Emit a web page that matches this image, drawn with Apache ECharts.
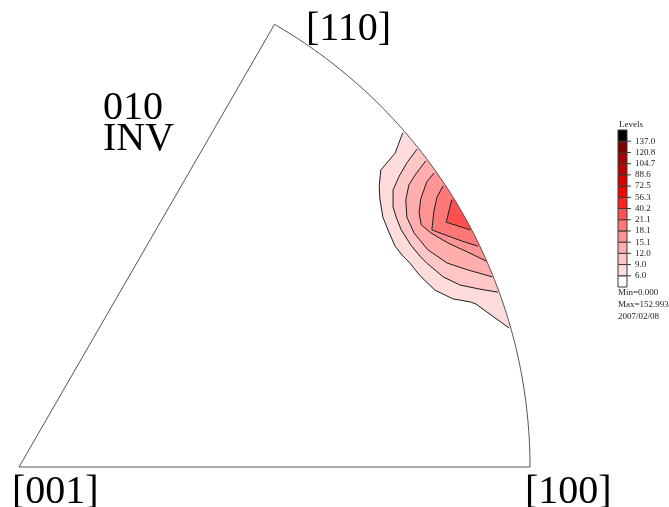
<!DOCTYPE html>
<html>
<head>
<meta charset="utf-8">
<script src="https://cdn.jsdelivr.net/npm/echarts@6/dist/echarts.min.js"></script>
<style>
  html, body { margin: 0; padding: 0; background: #ffffff; }
  #chart { width: 669px; height: 507px; }
</style>
</head>
<body>
<div id="chart"></div>
<script>
// Contour thresholds (ascending); band k covers [levels[k-1], levels[k])
const levels = [6.0, 9.0, 12.0, 15.1, 18.1, 21.1, 40.2, 56.3, 72.5, 88.6, 104.7, 120.8, 137.0];
const bandColors = ['#ffffff', '#ffdcdc', '#ffc6c6', '#ffadad', '#ff9494', '#ff7878', '#ff5050',
                    '#ff2020', '#ff0000', '#dd0000', '#c00000', '#a40000', '#800000', '#000000'];

// Isolines in projected coordinates (unit circle = rim of the sector).
// Each one starts and ends on the rim; the region above its level lies between it and the rim.
const iso6 = [[0.751, 0.654], [0.736, 0.614], [0.708, 0.581], [0.705, 0.550], [0.706, 0.526],
              [0.712, 0.489], [0.722, 0.464], [0.736, 0.432], [0.751, 0.413], [0.765, 0.399],
              [0.785, 0.374], [0.814, 0.346], [0.849, 0.329], [0.883, 0.323], [0.894, 0.319],
              [0.916, 0.303], [0.959, 0.272]];
const iso9 = [[0.779, 0.622], [0.759, 0.595], [0.744, 0.569], [0.732, 0.542], [0.732, 0.509],
              [0.738, 0.489], [0.748, 0.464], [0.767, 0.434], [0.786, 0.411], [0.798, 0.399],
              [0.830, 0.372], [0.863, 0.356], [0.902, 0.348], [0.937, 0.342]];
const iso12 = [[0.796, 0.599], [0.775, 0.571], [0.763, 0.552], [0.757, 0.523], [0.759, 0.489],
               [0.773, 0.458], [0.800, 0.425], [0.838, 0.399], [0.877, 0.386], [0.926, 0.372]];
const iso15 = [[0.812, 0.575], [0.798, 0.558], [0.786, 0.524], [0.783, 0.497], [0.787, 0.474],
               [0.806, 0.458], [0.840, 0.438], [0.877, 0.421], [0.914, 0.403]];
const iso18 = [[0.830, 0.550], [0.818, 0.528], [0.812, 0.501], [0.808, 0.464], [0.834, 0.454],
               [0.867, 0.442], [0.898, 0.432]];
const iso21 = [[0.847, 0.523], [0.836, 0.479], [0.883, 0.464]];
const isolines = [iso6, iso9, iso12, iso15, iso18, iso21];   // isolines[k] is drawn at levels[k]

// Corners of the standard triangle (hexagonal, [001] at the centre of projection)
const poleNames = ['[001]', '[100]', '[110]'];
const poleCoords = [[0, 0], [1, 0], [0.5, 0.8660]];

const plotTitle = ['010', 'INV'];
const legendTitle = 'Levels';
const stats = ['Min=0.000', 'Max=152.993', '2007/02/08'];

const serif = 'Liberation Serif';

function rimPoints(api, a0, a1, n) {
  const out = [];
  for (let i = 0; i <= n; i++) {
    const a = a0 + (a1 - a0) * i / n;
    out.push(api.coord([Math.cos(a), Math.sin(a)]));
  }
  return out;
}

function renderBand(params, api) {
  const k = api.value(0);
  const line = isolines[k];
  const pts = line.map(p => api.coord(p));
  const last = line[line.length - 1];
  const a0 = Math.atan2(last[1], last[0]);
  const a1 = Math.atan2(line[0][1], line[0][0]);
  const rim = rimPoints(api, a0, a1, 40);
  return {
    type: 'group',
    children: [
      { type: 'polygon', shape: { points: pts.concat(rim) },
        style: { fill: bandColors[k + 1], stroke: null } },
      { type: 'polyline', shape: { points: pts },
        style: { stroke: '#1c1c1c', lineWidth: 1, fill: null } }
    ]
  };
}

function renderOutline(params, api) {
  const o = api.coord(poleCoords[0]);
  const a100 = Math.atan2(poleCoords[1][1], poleCoords[1][0]);
  const a110 = Math.atan2(poleCoords[2][1], poleCoords[2][0]);
  const pts = [o].concat(rimPoints(api, a100, a110, 120));
  pts.push(o);
  return {
    type: 'polyline',
    shape: { points: pts },
    style: { stroke: '#555555', lineWidth: 1, fill: null }
  };
}

function renderKey(params, api) {
  const i = api.value(0);
  const p0 = api.coord([0, i]);
  const p1 = api.coord([1, i + 1]);
  const children = [{
    type: 'rect',
    shape: { x: p0[0], y: p1[1], width: p1[0] - p0[0], height: p0[1] - p1[1] },
    style: { fill: bandColors[i], stroke: '#3a3a3a', lineWidth: 1 }
  }];
  if (i > 0) {
    children.push({
      type: 'line',
      shape: { x1: p1[0], y1: p0[1], x2: p1[0] + 4, y2: p0[1] },
      style: { stroke: '#3a3a3a', lineWidth: 1 }
    });
  }
  return { type: 'group', children: children };
}

const chart = echarts.init(document.getElementById('chart'), null, { renderer: 'canvas' });

const texts = [];
const polePos = [[12, 492], [525, 492], [306, 29]];
poleNames.forEach((name, i) => {
  texts.push({ type: 'text', left: polePos[i][0], top: polePos[i][1] - 20,
    style: { text: name, font: '40px "' + serif + '"', fill: '#000' } });
});
texts.push({ type: 'text', left: 103, top: 88,
  style: { text: plotTitle[0], font: '40px "' + serif + '"', fill: '#000' } });
texts.push({ type: 'text', left: 103, top: 119,
  style: { text: plotTitle[1], font: '40px "' + serif + '"', fill: '#000' } });
texts.push({ type: 'text', left: 619, top: 120,
  style: { text: legendTitle, font: '9px "' + serif + '"', fill: '#222' } });
stats.forEach((s, i) => {
  texts.push({ type: 'text', left: 618, top: 288 + i * 12,
    style: { text: s, font: '9px "' + serif + '"', fill: '#222' } });
});

chart.setOption({
  animation: false,
  backgroundColor: '#ffffff',
  grid: [
    { left: 19, top: 7, width: 511, height: 460 },
    { left: 618, top: 130, width: 9, height: 157 }
  ],
  xAxis: [
    { type: 'value', gridIndex: 0, min: 0, max: 1, show: false },
    { type: 'value', gridIndex: 1, min: 0, max: 1, show: false }
  ],
  yAxis: [
    { type: 'value', gridIndex: 0, min: 0, max: 0.9, show: false },
    { type: 'value', gridIndex: 1, min: 0, max: 14, interval: 1, position: 'right',
      axisLine: { show: false }, axisTick: { show: false }, splitLine: { show: false },
      axisLabel: {
        margin: 8, fontSize: 9, fontFamily: serif, color: '#222',
        formatter: v => (v >= 1 && v <= levels.length) ? levels[v - 1].toFixed(1) : ''
      } }
  ],
  series: [
    { type: 'custom', xAxisIndex: 0, yAxisIndex: 0, renderItem: renderBand,
      data: isolines.map((_, k) => [k, 0]), silent: true, z: 2 },
    { type: 'custom', xAxisIndex: 0, yAxisIndex: 0, renderItem: renderOutline,
      data: [[0, 0]], silent: true, z: 3 },
    { type: 'custom', xAxisIndex: 1, yAxisIndex: 1, renderItem: renderKey,
      data: bandColors.map((_, i) => [i, i]), silent: true, z: 2 }
  ],
  graphic: texts
});
</script>
</body>
</html>
